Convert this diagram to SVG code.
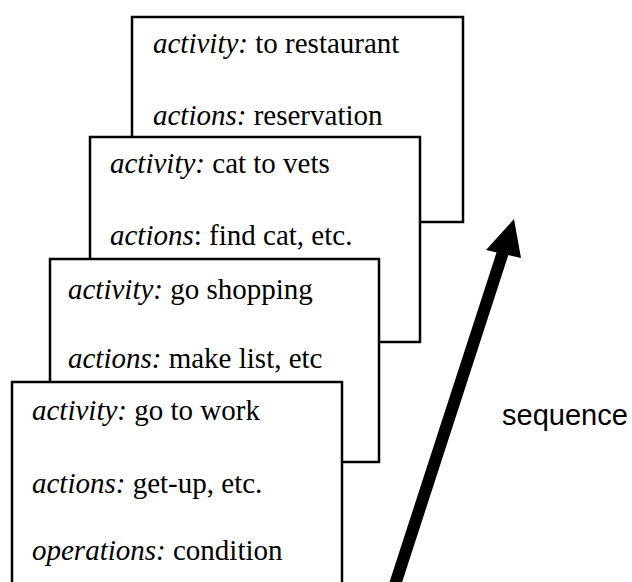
<svg xmlns="http://www.w3.org/2000/svg" width="632" height="582" viewBox="0 0 632 582">
<style>
.card{fill:#fff;stroke:#000;stroke-width:2.5}
.t{font-family:"Liberation Serif","Times New Roman",serif;font-size:29px;fill:#000}
.i{font-style:italic}
.seq{font-family:"Liberation Sans",Arial,sans-serif;font-size:29px;fill:#000}
</style>
<rect width="632" height="582" fill="#fff"/>
<g id="card-restaurant">
<rect class="card" x="132" y="17" width="331" height="205"/>
<text class="t" x="153" y="53"><tspan class="i">activity:</tspan> to restaurant</text>
<text class="t" x="153" y="125"><tspan class="i">actions:</tspan> reservation</text>
</g>
<g id="card-vets">
<rect class="card" x="90" y="137" width="330" height="205"/>
<text class="t" x="110" y="173"><tspan class="i">activity:</tspan> cat to vets</text>
<text class="t" x="110" y="245"><tspan class="i">actions</tspan>: find cat, etc.</text>
</g>
<g id="card-shopping">
<rect class="card" x="50" y="259" width="329" height="203"/>
<text class="t" x="68" y="299"><tspan class="i">activity:</tspan> go shopping</text>
<text class="t" x="68" y="368"><tspan class="i">actions:</tspan> make list, etc</text>
</g>
<g id="card-work">
<rect class="card" x="12" y="382" width="330" height="230"/>
<text class="t" x="32" y="420"><tspan class="i">activity:</tspan> go to work</text>
<text class="t" x="32" y="493"><tspan class="i">actions:</tspan> get-up, etc.</text>
<text class="t" x="32" y="560"><tspan class="i">operations:</tspan> condition</text>
</g>
<g id="connectors">
<line x1="390" y1="600" x2="503" y2="252" stroke="#000" stroke-width="12"/>
<polygon points="514,219 486,250 521,258" fill="#000"/>
</g>
<g id="label-sequence">
<text class="seq" x="502" y="425">sequence</text>
</g>
</svg>
